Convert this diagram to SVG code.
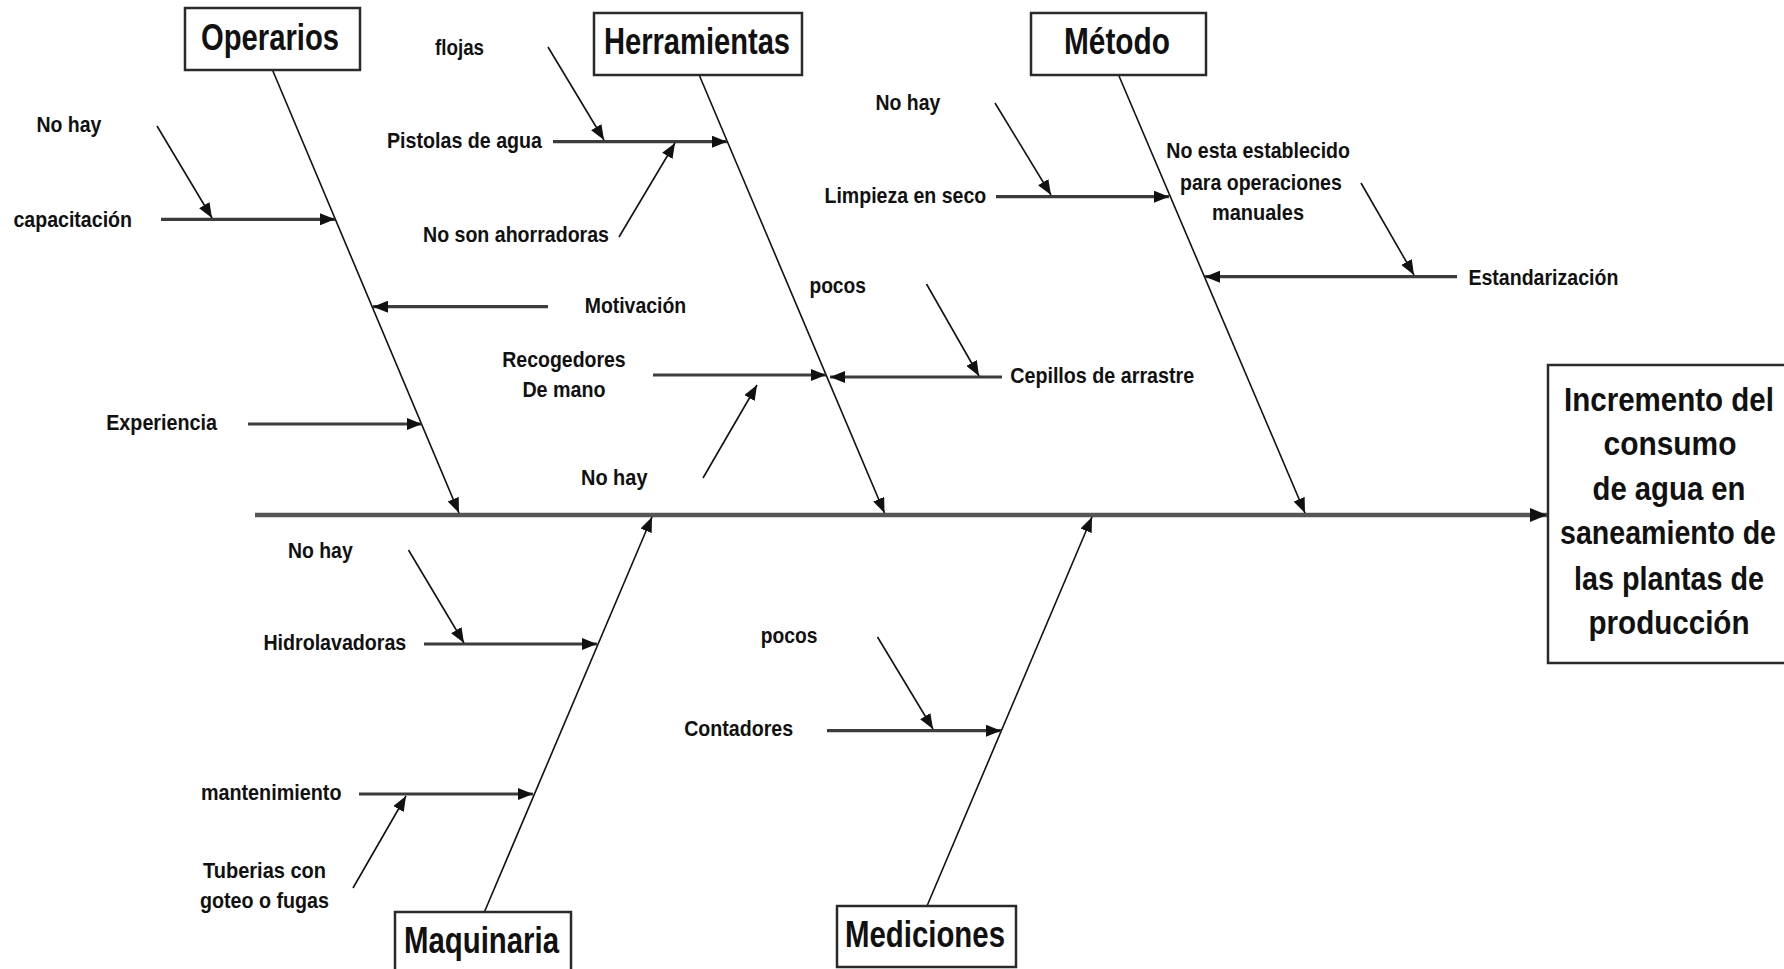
<svg xmlns="http://www.w3.org/2000/svg" width="1784" height="969" viewBox="0 0 1784 969">
  <style>
    .box { fill: #ffffff; stroke: #2a2a2a; stroke-width: 2.5; }
    .head { font-family: "Liberation Sans", Arial, sans-serif; font-weight: bold; font-size: 36px; fill: #111; }
    .effect { font-family: "Liberation Sans", Arial, sans-serif; font-weight: bold; font-size: 34px; fill: #111; text-anchor: middle; }
    .lbl { font-family: "Liberation Sans", Arial, sans-serif; font-weight: bold; font-size: 22px; fill: #111; }
    .spine { stroke: #555; stroke-width: 4.5; fill: none; }
    .bone { stroke: #111; stroke-width: 1.6; fill: none; }
    .branch { stroke: #3c3c3c; stroke-width: 3.2; fill: none; }
    .cause { stroke: #111; stroke-width: 1.6; fill: none; }
  </style>
  <defs>
    <marker id="ah" markerUnits="userSpaceOnUse" markerWidth="16" markerHeight="12" refX="15" refY="6" orient="auto">
      <path d="M0,0 L15,6 L0,12 z" fill="#111"/>
    </marker>
    <marker id="ahBig" markerUnits="userSpaceOnUse" markerWidth="18" markerHeight="14" refX="17" refY="7" orient="auto">
      <path d="M0,0 L17,7 L0,14 z" fill="#111"/>
    </marker>
  </defs>

  <rect width="1784" height="969" fill="#ffffff"/>

  <!-- connectors: spine, main bones, sub-causes -->
  <g id="connectors">
    <line class="spine" x1="255" y1="515" x2="1547" y2="515" marker-end="url(#ahBig)"/>

    <line class="bone" x1="272.5" y1="70" x2="459" y2="513" marker-end="url(#ah)"/>
    <line class="bone" x1="699.6" y1="76" x2="884.5" y2="513" marker-end="url(#ah)"/>
    <line class="bone" x1="1119" y1="76" x2="1305" y2="513" marker-end="url(#ah)"/>
    <line class="bone" x1="484.4" y1="912" x2="652" y2="517" marker-end="url(#ah)"/>
    <line class="bone" x1="927" y1="906" x2="1092" y2="517" marker-end="url(#ah)"/>

    <line class="branch" x1="161" y1="219.3" x2="335" y2="219.3" marker-end="url(#ah)"/>
    <line class="branch" x1="548" y1="306.7" x2="373" y2="306.7" marker-end="url(#ah)"/>
    <line class="branch" x1="248" y1="424" x2="422" y2="424" marker-end="url(#ah)"/>
    <line class="branch" x1="553" y1="141.7" x2="727" y2="141.7" marker-end="url(#ah)"/>
    <line class="branch" x1="653" y1="375" x2="826" y2="375" marker-end="url(#ah)"/>
    <line class="branch" x1="1002" y1="377" x2="830" y2="377" marker-end="url(#ah)"/>
    <line class="branch" x1="996" y1="196.7" x2="1169" y2="196.7" marker-end="url(#ah)"/>
    <line class="branch" x1="1457" y1="276.7" x2="1205" y2="276.7" marker-end="url(#ah)"/>
    <line class="branch" x1="424" y1="644" x2="597" y2="644" marker-end="url(#ah)"/>
    <line class="branch" x1="359" y1="794" x2="533" y2="794" marker-end="url(#ah)"/>
    <line class="branch" x1="827" y1="730.7" x2="1001" y2="730.7" marker-end="url(#ah)"/>

    <line class="cause" x1="157" y1="126" x2="212" y2="218" marker-end="url(#ah)"/>
    <line class="cause" x1="548" y1="47" x2="604" y2="140" marker-end="url(#ah)"/>
    <line class="cause" x1="619" y1="237" x2="675" y2="143" marker-end="url(#ah)"/>
    <line class="cause" x1="926.5" y1="284" x2="979" y2="376" marker-end="url(#ah)"/>
    <line class="cause" x1="703" y1="478" x2="757" y2="385" marker-end="url(#ah)"/>
    <line class="cause" x1="995" y1="103" x2="1051" y2="195" marker-end="url(#ah)"/>
    <line class="cause" x1="1361" y1="183" x2="1414" y2="275" marker-end="url(#ah)"/>
    <line class="cause" x1="408.5" y1="550" x2="464" y2="643" marker-end="url(#ah)"/>
    <line class="cause" x1="353" y1="888" x2="406" y2="796" marker-end="url(#ah)"/>
    <line class="cause" x1="877.5" y1="637" x2="933" y2="729" marker-end="url(#ah)"/>
  </g>

  <!-- category heads -->
  <g id="operarios">
    <rect class="box" x="185" y="8" width="175" height="62"/>
    <text class="head" x="201" y="50" textLength="138" lengthAdjust="spacingAndGlyphs">Operarios</text>
  </g>
  <g id="herramientas">
    <rect class="box" x="594" y="13" width="208" height="62"/>
    <text class="head" x="604" y="54" textLength="186" lengthAdjust="spacingAndGlyphs">Herramientas</text>
  </g>
  <g id="metodo">
    <rect class="box" x="1031" y="13" width="175" height="62"/>
    <text class="head" x="1064" y="54" textLength="106" lengthAdjust="spacingAndGlyphs">Método</text>
  </g>
  <g id="maquinaria">
    <rect class="box" x="395" y="912" width="176" height="70"/>
    <text class="head" x="404" y="953" textLength="155" lengthAdjust="spacingAndGlyphs">Maquinaria</text>
  </g>
  <g id="mediciones">
    <rect class="box" x="837" y="906" width="179" height="61"/>
    <text class="head" x="845" y="947" textLength="160" lengthAdjust="spacingAndGlyphs">Mediciones</text>
  </g>

  <!-- effect -->
  <g id="efecto">
    <rect class="box" x="1548" y="365" width="250" height="298"/>
    <text class="effect" x="1669" y="411" textLength="210" lengthAdjust="spacingAndGlyphs">Incremento del</text>
    <text class="effect" x="1670" y="455" textLength="133" lengthAdjust="spacingAndGlyphs">consumo</text>
    <text class="effect" x="1669" y="500" textLength="153" lengthAdjust="spacingAndGlyphs">de agua en</text>
    <text class="effect" x="1668" y="544" textLength="216" lengthAdjust="spacingAndGlyphs">saneamiento de</text>
    <text class="effect" x="1669" y="590" textLength="190" lengthAdjust="spacingAndGlyphs">las plantas de</text>
    <text class="effect" x="1669" y="634" textLength="161" lengthAdjust="spacingAndGlyphs">producción</text>
  </g>

  <!-- causes: Operarios -->
  <g id="c-operarios">
    <text class="lbl" x="36.4" y="132" textLength="65" lengthAdjust="spacingAndGlyphs">No hay</text>
    <text class="lbl" x="13.4" y="226.7" textLength="118.6" lengthAdjust="spacingAndGlyphs">capacitación</text>
    <text class="lbl" x="584.7" y="313.3" textLength="101.5" lengthAdjust="spacingAndGlyphs">Motivación</text>
    <text class="lbl" x="106.2" y="430" textLength="110.8" lengthAdjust="spacingAndGlyphs">Experiencia</text>
  </g>

  <!-- causes: Herramientas -->
  <g id="c-herramientas">
    <text class="lbl" x="435" y="55" textLength="49" lengthAdjust="spacingAndGlyphs">flojas</text>
    <text class="lbl" x="387" y="148.3" textLength="155" lengthAdjust="spacingAndGlyphs">Pistolas de agua</text>
    <text class="lbl" x="423" y="242" textLength="186" lengthAdjust="spacingAndGlyphs">No son ahorradoras</text>
    <text class="lbl" x="809.4" y="293.3" textLength="56.6" lengthAdjust="spacingAndGlyphs">pocos</text>
    <text class="lbl" x="502.3" y="366.7" textLength="123.4" lengthAdjust="spacingAndGlyphs">Recogedores</text>
    <text class="lbl" x="522.4" y="397.3" textLength="83.2" lengthAdjust="spacingAndGlyphs">De mano</text>
    <text class="lbl" x="581" y="485" textLength="66.5" lengthAdjust="spacingAndGlyphs">No hay</text>
    <text class="lbl" x="1010.2" y="383.3" textLength="184" lengthAdjust="spacingAndGlyphs">Cepillos de arrastre</text>
  </g>

  <!-- causes: Método -->
  <g id="c-metodo">
    <text class="lbl" x="875.5" y="110" textLength="64.8" lengthAdjust="spacingAndGlyphs">No hay</text>
    <text class="lbl" x="824.5" y="203.3" textLength="161.7" lengthAdjust="spacingAndGlyphs">Limpieza en seco</text>
    <text class="lbl" x="1166.3" y="158.3" textLength="183.7" lengthAdjust="spacingAndGlyphs">No esta establecido</text>
    <text class="lbl" x="1180" y="190" textLength="161.8" lengthAdjust="spacingAndGlyphs">para operaciones</text>
    <text class="lbl" x="1212" y="220" textLength="92" lengthAdjust="spacingAndGlyphs">manuales</text>
    <text class="lbl" x="1468.4" y="285" textLength="150" lengthAdjust="spacingAndGlyphs">Estandarización</text>
  </g>

  <!-- causes: Maquinaria -->
  <g id="c-maquinaria">
    <text class="lbl" x="288" y="558.3" textLength="64.7" lengthAdjust="spacingAndGlyphs">No hay</text>
    <text class="lbl" x="263.4" y="650" textLength="142.9" lengthAdjust="spacingAndGlyphs">Hidrolavadoras</text>
    <text class="lbl" x="200.9" y="800" textLength="140.6" lengthAdjust="spacingAndGlyphs">mantenimiento</text>
    <text class="lbl" x="203" y="878.3" textLength="123" lengthAdjust="spacingAndGlyphs">Tuberias con</text>
    <text class="lbl" x="200" y="908.3" textLength="129" lengthAdjust="spacingAndGlyphs">goteo o fugas</text>
  </g>

  <!-- causes: Mediciones -->
  <g id="c-mediciones">
    <text class="lbl" x="760.7" y="643.3" textLength="56.7" lengthAdjust="spacingAndGlyphs">pocos</text>
    <text class="lbl" x="684.2" y="736" textLength="109" lengthAdjust="spacingAndGlyphs">Contadores</text>
  </g>
</svg>
